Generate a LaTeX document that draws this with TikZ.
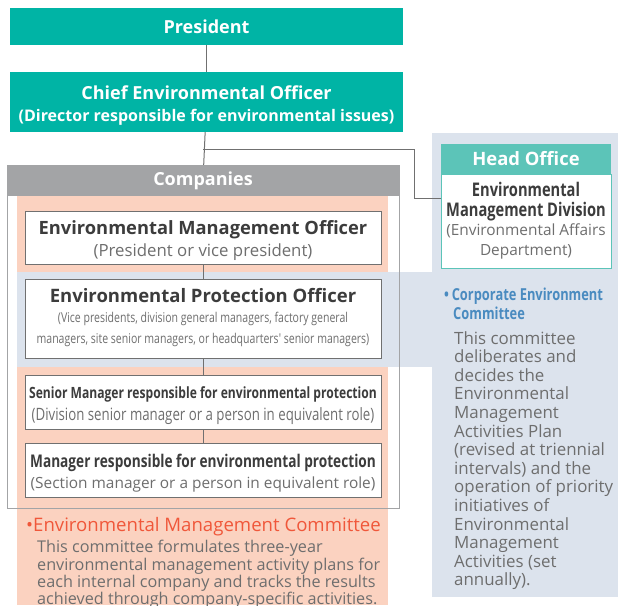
\documentclass[tikz,border=0pt]{standalone}
\usepackage{fontspec}
\setmainfont{Open Sans}
\newfontfamily\narrowfont[FakeStretch=0.78]{Open Sans}
\usetikzlibrary{positioning}

\definecolor{orgteal}{RGB}{0,180,165}
\definecolor{hoteal}{RGB}{92,196,184}
\definecolor{compgray}{RGB}{163,164,166}
\definecolor{salmonbg}{RGB}{251,210,192}
\definecolor{bluebg}{RGB}{220,227,237}
\definecolor{redtxt}{RGB}{240,87,58}
\definecolor{bluetxt}{RGB}{74,139,192}
\definecolor{darktxt}{RGB}{60,60,60}
\definecolor{greytxt}{RGB}{110,110,110}
\definecolor{linegray}{RGB}{112,112,112}

% one line of text in a box, each in its own font
\newcommand{\roleline}[2][18]{{\bfseries\fontsize{#1}{22}\selectfont #2}}
\newcommand{\narrowrole}[2][16]{{\narrowfont\bfseries\fontsize{#1}{20}\selectfont #2}}
\newcommand{\subline}[2][15]{{\fontsize{#1}{18}\selectfont\color{greytxt}#2}}
\newcommand{\narrowsub}[2][16]{{\narrowfont\fontsize{#1}{20}\selectfont\color{greytxt}#2}}

\tikzset{
  topbox/.style={fill=orgteal, text=white, minimum width=393, inner sep=0, align=center},
  officebox/.style={draw=linegray, fill=white, minimum width=356, inner sep=0, align=center,
    text=darktxt, font=\fontsize{15}{22}\selectfont},
  % last baseline sits #1/2 below the centre of the box
  lastline/.style={text depth=0pt, text height=#1},
  link/.style={draw=linegray, line width=1pt},
  note/.style={anchor=north west, inner sep=0, align=left, text=greytxt}
}

\begin{document}
\begin{tikzpicture}[x=1pt, y=-1pt]
\useasboundingbox (0,0) rectangle (618,605);

% coloured backgrounds
\fill[bluebg] (432,133) rectangle (618,597);
\fill[salmonbg] (17,196) rectangle (388,605);
\fill[bluebg] (17,272) rectangle (432,367);

% top of the organisation
\node[topbox, minimum height=37, font=\bfseries\fontsize{18}{20}\selectfont] (president) at (206.5,26.5) {President};
\node[topbox, minimum height=60, lastline=38, font=\bfseries\fontsize{16}{22}\selectfont] (ceo) at (206.5,102)
  {{\fontsize{18}{22}\selectfont Chief Environmental Officer}\\
   (Director responsible for environmental issues)};

% companies frame
\draw[compgray, line width=0.8pt] (7,165) rectangle (399,508);
\node[fill=compgray, text=white, minimum width=392, minimum height=31, inner sep=0,
  font=\bfseries\fontsize{18}{20}\selectfont] (companies) at (203,180.5) {Companies};

% head office
\node[fill=hoteal, text=white, minimum width=170, minimum height=30, inner sep=0,
  font=\bfseries\fontsize{18.4}{20}\selectfont] (headoffice) at (526,159) {Head Office};
\node[draw=hoteal, fill=white, minimum width=170, minimum height=94, inner sep=0, align=center,
  lastline=68, font=\fontsize{15.4}{19.7}\selectfont, below=0pt of headoffice] (envdiv)
  {{\narrowfont\bfseries\fontsize{18.8}{20}\selectfont\color{darktxt}Environmental}\\
   {\narrowfont\bfseries\fontsize{18.8}{20}\selectfont\color{darktxt}Management Division}\\
   {\color{greytxt}(Environmental Affairs}\\
   {\color{greytxt}Department)}};
\coordinate (hoin) at (441,198);

% officers inside the companies
\node[officebox, minimum height=53, lastline=37] (emo) at (203,237.5)
  {\roleline[18.3]{Environmental Management Officer}\\
   \subline[16.8]{(President or vice president)}};
\node[officebox, minimum height=79, lastline=49, font=\fontsize{15}{20.5}\selectfont] (epo) at (203,318.5)
  {\roleline[18.5]{Environmental Protection Officer}\\
   \narrowsub[13.5]{(Vice presidents, division general managers, factory general}\\
   \narrowsub[13.5]{managers, site senior managers, or headquarters' senior managers)}};
\node[officebox, minimum height=54, lastline=36] (seniormgr) at (203,402)
  {\narrowrole[15.5]{Senior Manager responsible for environmental protection}\\
   \narrowsub[17]{(Division senior manager or a person in equivalent role)}};
\node[officebox, minimum height=54, lastline=36, font=\fontsize{15}{21}\selectfont] (manager) at (203,470)
  {\narrowrole[17.5]{Manager responsible for environmental protection}\\
   \subline[15.4]{(Section manager or a person in equivalent role)}};

% reporting lines
\coordinate (branch) at (203,149);
\draw[link] (president) -- (ceo);
\draw[link] (ceo) -- (companies);
\draw[link] (branch) -- ++(211,0) |- (hoin);
\draw[link] (emo) -- (epo);
\draw[link] (epo) -- (seniormgr);
\draw[link] (seniormgr) -- (manager);

% committees
\node[anchor=west, inner sep=0, text=redtxt, font=\fontsize{18.6}{22}\selectfont] (emctitle) at (26,527)
  {\textbullet Environmental Management Committee};
\node[note, font=\fontsize{16.2}{17.4}\selectfont] (emctext) at (37,540)
  {This committee formulates three-year\\
   environmental management activity plans for\\
   each internal company and tracks the results\\
   achieved through company-specific activities.};

\node[anchor=north west, inner sep=0, align=left, text=bluetxt,
  font=\narrowfont\bfseries\fontsize{16.5}{18.5}\selectfont] (cectitle) at (444,288)
  {\textbullet\,Corporate Environment\\
   \hspace*{9pt}Committee};
\node[note, font=\fontsize{16.9}{18.6}\selectfont] (cectext) at (454,331)
  {This committee\\
   deliberates and\\
   decides the\\
   Environmental\\
   Management\\
   Activities Plan\\
   (revised at triennial\\
   intervals) and the\\
   operation of priority\\
   initiatives of\\
   Environmental\\
   Management\\
   Activities (set\\
   annually).};
\end{tikzpicture}
\end{document}
